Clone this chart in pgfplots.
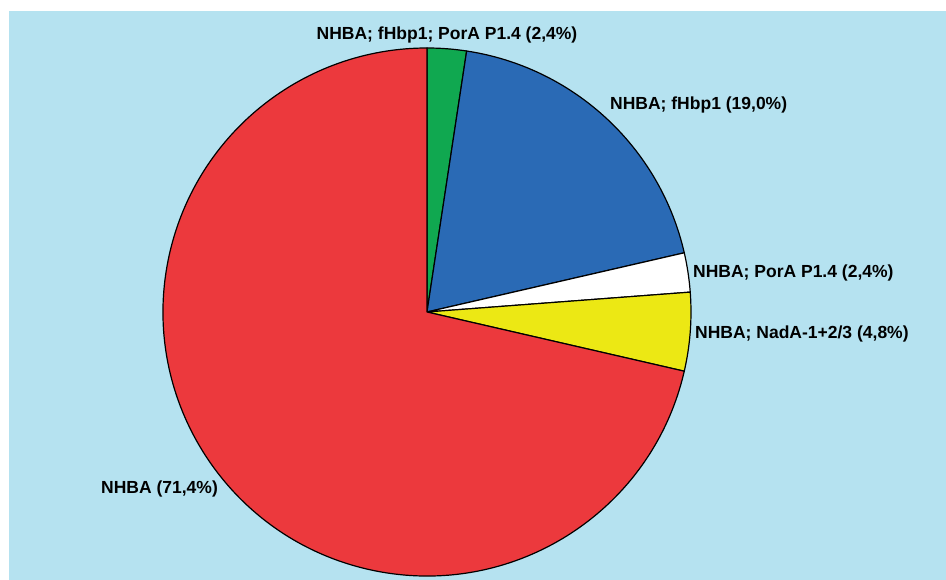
\documentclass[border=0pt]{standalone}
\usepackage{pgfplots}
\pgfplotsset{compat=1.18}
\usepackage{fontspec}
\setmainfont{Liberation Sans}
\definecolor{bgblue}{HTML}{B5E2F0}
\definecolor{pred}{HTML}{EC393D}
\definecolor{pblue}{HTML}{2A6AB5}
\definecolor{pgreen}{HTML}{10A850}
\definecolor{pyellow}{HTML}{ECE814}
% slice: cumulative start percent, cumulative end percent, colour
\newcommand\slice[3]{%
  \filldraw[overlay, fill=#3, draw=black, line width=1.2pt, line join=round]
    (axis cs:0,0) -- (axis cs:{cos(90-3.6*#1)},{sin(90-3.6*#1)})
    arc[start angle={90-3.6*#1}, end angle={90-3.6*#2}, radius=264pt] -- cycle;}
\begin{document}
\begin{tikzpicture}[x=1pt,y=1pt]
\fill[white] (0,0) rectangle (946,580);
\fill[bgblue] (9,0) rectangle (946,569);
\begin{axis}[
  x=264pt, y=264pt,
  xmin=-1, xmax=1, ymin=-1, ymax=1,
  hide axis, clip=false,
  at={(427pt,268pt)}, anchor=center,
]
% shares (percent): 2.4, 19.0, 2.4, 4.8, 71.4
\slice{0}{2.4}{pgreen}
\slice{2.4}{21.4}{pblue}
\slice{21.4}{23.8}{white}
\slice{23.8}{28.6}{pyellow}
\slice{28.6}{100}{pred}
\end{axis}
\begin{scope}[every node/.style={font=\fontsize{17.5}{20}\selectfont\bfseries, inner sep=0pt}]
\node[anchor=center] at (447,545.5) {NHBA; fHbp1; PorA P1.4 (2,4\%)};
\node[anchor=west] at (610,475) {NHBA; fHbp1 (19,0\%)};
\node[anchor=west] at (693,307) {NHBA; PorA P1.4 (2,4\%)};
\node[anchor=west] at (695,246.3) {NHBA; NadA-1+2/3 (4,8\%)};
\node[anchor=west] at (101,90.7) {NHBA (71,4\%)};
\end{scope}
\pgfresetboundingbox
\useasboundingbox (0,0) rectangle (946,580);
\end{tikzpicture}
\end{document}
